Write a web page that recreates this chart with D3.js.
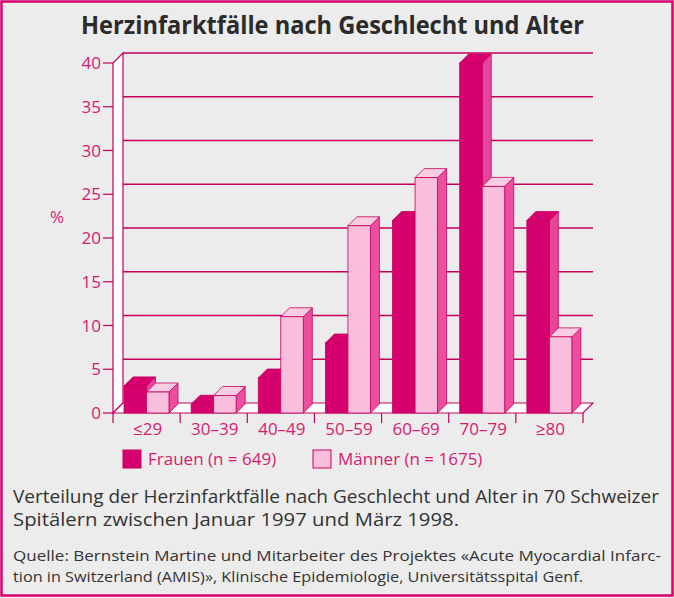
<!DOCTYPE html>
<html>
<head>
<meta charset="utf-8">
<script src="https://cdn.jsdelivr.net/npm/d3@7"></script>
<style>
  html, body { margin: 0; padding: 0; background: #ececec; }
  text { font-family: "Open Sans", "Noto Sans", sans-serif; }
</style>
</head>
<body>
<div id="chart"></div>
<script>
// data
const categories = ["≤29", "30–39", "40–49", "50–59", "60–69", "70–79", "≥80"];
const series = ["Frauen (n = 649)", "Männer (n = 1675)"];
const frauen = [3.1, 1.0, 4.0, 8.0, 22.0, 40.0, 22.0];
const maenner = [2.4, 2.0, 11.0, 21.4, 26.9, 25.9, 8.7];
const yTicks = [0, 5, 10, 15, 20, 25, 30, 35, 40];

const width = 674, height = 598;
const pink = "#d8006f";
const lineCol = "#c4005c";
const textPink = "#d81b72";

const fills = [
  { front: "#d6006e", side: "#e4479a", top: "#d6006e" },
  { front: "#f9bedb", side: "#ec4f9f", top: "#fbcde3" }
];

const svg = d3.select("#chart")
  .append("svg")
  .attr("width", width)
  .attr("height", height);

// frame
svg.append("rect")
  .attr("x", 1.5).attr("y", 1.5)
  .attr("width", width - 3).attr("height", height - 4)
  .attr("fill", "#ececec")
  .attr("stroke", pink)
  .attr("stroke-width", 2.5);

// title
svg.append("text")
  .attr("x", 81).attr("y", 34)
  .attr("textLength", 503)
  .attr("lengthAdjust", "spacingAndGlyphs")
  .style("font-size", "24.5px")
  .style("font-weight", 700)
  .style("fill", "#2b2b2b")
  .text("Herzinfarktfälle nach Geschlecht und Alter");

// scales
const x = d3.scaleBand().domain(categories).range([113, 583]);
const xs = d3.scaleBand().domain([0, 1]).range([11, 56]);
const y = d3.scaleLinear().domain([0, 40]).range([413, 63]);
const D = 10;   // depth of the walls
const d = 9;    // depth of the bars

const g = svg.append("g");

// back wall grid lines
g.selectAll(".grid")
  .data(yTicks.filter(v => v > 0))
  .join("line")
  .attr("class", "grid")
  .attr("x1", x.range()[0] + D).attr("x2", x.range()[1] + D)
  .attr("y1", v => y(v) - D).attr("y2", v => y(v) - D)
  .attr("stroke", lineCol)
  .attr("stroke-width", 1.5);

// left wall
const x0 = x.range()[0], x1 = x.range()[1];
g.append("path")
  .attr("d", `M${x0},${y(0)}L${x0},${y(40)}L${x0 + D},${y(40) - D}L${x0 + D},${y(0) - D}Z`)
  .attr("fill", "#fff")
  .attr("stroke", lineCol)
  .attr("stroke-width", 1.2);

// floor
g.append("path")
  .attr("d", `M${x0},${y(0)}L${x0 + D},${y(0) - D}L${x1 + D},${y(0) - D}L${x1},${y(0)}Z`)
  .attr("fill", "#fff")
  .attr("stroke", lineCol)
  .attr("stroke-width", 1.2);

// y axis ticks and labels
const yAxis = g.append("g");
yAxis.selectAll("line")
  .data(yTicks)
  .join("line")
  .attr("x1", x0 - 10).attr("x2", x0)
  .attr("y1", v => y(v)).attr("y2", v => y(v))
  .attr("stroke", lineCol)
  .attr("stroke-width", 1.2);
yAxis.selectAll("text")
  .data(yTicks)
  .join("text")
  .attr("x", x0 - 12).attr("y", v => y(v) + 6)
  .attr("text-anchor", "end")
  .style("font-size", "17px")
  .style("fill", textPink)
  .text(d => d);

svg.append("text")
  .attr("x", 57).attr("y", 223)
  .attr("text-anchor", "middle")
  .style("font-size", "17px")
  .style("fill", textPink)
  .text("%");

// x axis ticks and labels
const bounds = categories.map(c => x(c)).concat([x1]);
g.selectAll(".xtick")
  .data(bounds)
  .join("line")
  .attr("class", "xtick")
  .attr("x1", v => v).attr("x2", v => v)
  .attr("y1", y(0)).attr("y2", y(0) + 10)
  .attr("stroke", lineCol)
  .attr("stroke-width", 1.2);
g.selectAll(".xlab")
  .data(categories)
  .join("text")
  .attr("class", "xlab")
  .attr("x", c => x(c) + x.bandwidth() / 2 + 1)
  .attr("y", y(0) + 22)
  .attr("text-anchor", "middle")
  .style("font-size", "17px")
  .style("fill", textPink)
  .text(c => c);

// 3d bars
const bars = [];
categories.forEach((c, i) => {
  [frauen[i], maenner[i]].forEach((v, s) => {
    bars.push({ c: c, s: s, v: v });
  });
});

const barG = g.selectAll(".bar")
  .data(bars)
  .join("g")
  .attr("class", "bar");

barG.each(function (b) {
  const el = d3.select(this);
  const bx0 = x(b.c) + xs(b.s);
  const bx1 = bx0 + xs.bandwidth();
  const yt = y(b.v), yb = y(0);
  const col = fills[b.s];
  // side
  el.append("path")
    .attr("d", `M${bx1},${yt}L${bx1 + d},${yt - d}L${bx1 + d},${yb - d}L${bx1},${yb}Z`)
    .attr("fill", col.side)
    .attr("stroke", lineCol)
    .attr("stroke-width", 0.8);
  // top
  el.append("path")
    .attr("d", `M${bx0},${yt}L${bx0 + d},${yt - d}L${bx1 + d},${yt - d}L${bx1},${yt}Z`)
    .attr("fill", col.top)
    .attr("stroke", lineCol)
    .attr("stroke-width", 0.8);
  // front
  el.append("rect")
    .attr("x", bx0).attr("y", yt)
    .attr("width", xs.bandwidth()).attr("height", yb - yt)
    .attr("fill", col.front)
    .attr("stroke", lineCol)
    .attr("stroke-width", 0.8);
});

// legend
const legend = svg.append("g");
const legX = [123, 313];
series.forEach((name, s) => {
  legend.append("rect")
    .attr("x", legX[s]).attr("y", 450)
    .attr("width", 18).attr("height", 18)
    .attr("fill", fills[s].front)
    .attr("stroke", lineCol)
    .attr("stroke-width", 1);
  legend.append("text")
    .attr("x", legX[s] + 25).attr("y", 465)
    .style("font-size", "17px")
    .style("fill", textPink)
    .text(name);
});

// caption
const caption = [
  { t: "Verteilung der Herzinfarktfälle nach Geschlecht und Alter in 70 Schweizer", y: 503, w: 646, fs: 18 },
  { t: "Spitälern zwischen Januar 1997 und März 1998.", y: 526, w: 446, fs: 18 },
  { t: "Quelle: Bernstein Martine und Mitarbeiter des Projektes «Acute Myocardial Infarc-", y: 561, w: 648, fs: 14.5 },
  { t: "tion in Switzerland (AMIS)», Klinische Epidemiologie, Universitätsspital Genf.", y: 582, w: 570, fs: 14.5 }
];
svg.selectAll(".cap")
  .data(caption)
  .join("text")
  .attr("class", "cap")
  .attr("x", 13).attr("y", c => c.y)
  .attr("textLength", c => c.w)
  .attr("lengthAdjust", "spacingAndGlyphs")
  .style("font-size", c => c.fs + "px")
  .style("fill", "#333")
  .text(c => c.t);
</script>
</body>
</html>
